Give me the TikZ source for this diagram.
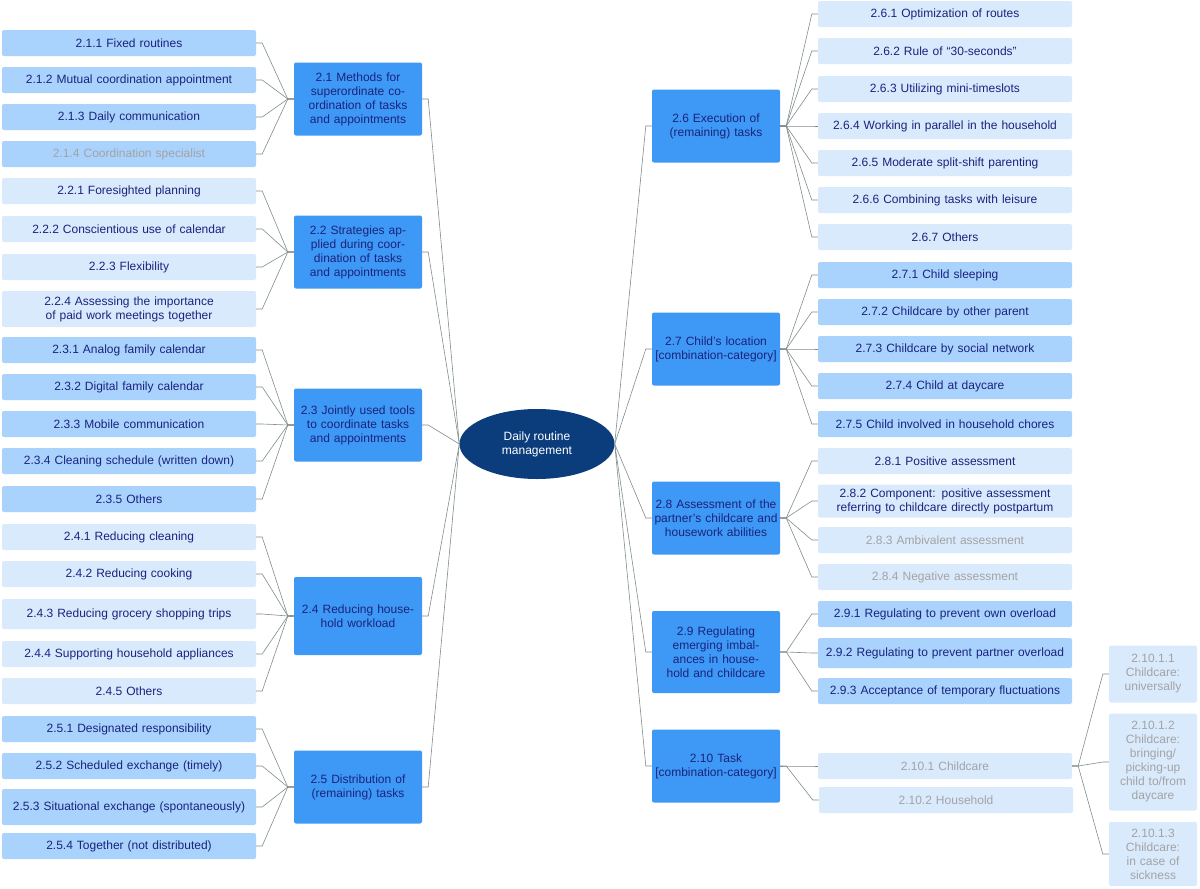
\documentclass[tikz,border=0pt]{standalone}
\usepackage{fontspec}
\setmainfont{Liberation Sans}
\usetikzlibrary{shapes.geometric}
\definecolor{midc}{HTML}{3D99F5}
\definecolor{darkleaf}{HTML}{A9D2FD}
\definecolor{lightleaf}{HTML}{D9EAFD}
\definecolor{txt}{HTML}{1A237E}
\definecolor{greyt}{HTML}{A3A3A3}
\definecolor{linec}{HTML}{7F8C8D}
\definecolor{ctr}{HTML}{0B3D7C}
\tikzset{
 box/.style={rounded corners=2pt, align=center, inner sep=2pt, font=\fontsize{12}{14}\selectfont, text=txt},
 mid/.style={box, fill=midc, text width=124, minimum height=73},
 dleaf/.style={box, fill=darkleaf, text width=250, minimum height=26},
 lleaf/.style={box, fill=lightleaf, text width=250, minimum height=26},
 sub/.style={box, fill=lightleaf, text width=84, text=greyt},
 gr/.style={text=greyt},
 conn/.style={draw=linec, line width=0.6pt},
}
\newcommand{\lconn}[2]{\draw[conn] (#1.west) -- ++(-6,0) -- ([xshift=6pt]#2.east) -- (#2.east);}
\newcommand{\rconn}[2]{\draw[conn] (#1.east) -- ++(6,0) -- ([xshift=-6pt]#2.west) -- (#2.west);}
\begin{document}
\begin{tikzpicture}[x=1pt,y=-1pt]
\useasboundingbox (0,0) rectangle (1200,889);
\node[ellipse, fill=ctr, text=white, minimum width=155, minimum height=70, align=center, font=\fontsize{12}{14}\selectfont] (c) at (537,444) {Daily routine\\management};
% left mids
\node[mid] (m1) at (358,99) {2.1 Methods for superordinate coordination of tasks and appointments};
\node[mid] (m2) at (358,252) {2.2 Strategies applied during coordination of tasks and appointments};
\node[mid] (m3) at (358,425) {2.3 Jointly used tools to coordinate tasks and appointments};
\node[mid, minimum height=78] (m4) at (358,616) {2.4 Reducing household workload};
\node[mid] (m5) at (358,787) {2.5 Distribution of (remaining) tasks};
% right mids
\node[mid] (m6) at (716,126) {2.6 Execution of (remaining) tasks};
\node[mid] (m7) at (716,349) {2.7 Child's location [combination-category]};
\node[mid] (m8) at (716,518) {2.8 Assessment of the partner's childcare and housework abilities};
\node[mid, minimum height=82] (m9) at (716,652) {2.9 Regulating emerging imbalances in household and childcare};
\node[mid] (m10) at (716,766) {2.10 Task [combination-category]};
% left leaves
\node[dleaf] (a1) at (129,43) {2.1.1 Fixed routines};
\node[dleaf] (a2) at (129,80) {2.1.2 Mutual coordination appointment};
\node[dleaf] (a3) at (129,117) {2.1.3 Daily communication};
\node[dleaf,gr] (a4) at (129,154) {2.1.4 Coordination specialist};
\node[lleaf] (b1) at (129,191) {2.2.1 Foresighted planning};
\node[lleaf] (b2) at (129,229) {2.2.2 Conscientious use of calendar};
\node[lleaf] (b3) at (129,267) {2.2.3 Flexibility};
\node[lleaf, minimum height=36] (b4) at (129,309) {2.2.4 Assessing the importance of paid work meetings together};
\node[dleaf] (d1) at (129,350) {2.3.1 Analog family calendar};
\node[dleaf] (d2) at (129,387) {2.3.2 Digital family calendar};
\node[dleaf] (d3) at (129,424) {2.3.3 Mobile communication};
\node[dleaf] (d4) at (129,461) {2.3.4 Cleaning schedule (written down)};
\node[dleaf] (d5) at (129,499) {2.3.5 Others};
\node[lleaf] (e1) at (129,537) {2.4.1 Reducing cleaning};
\node[lleaf] (e2) at (129,574) {2.4.2 Reducing cooking};
\node[lleaf, minimum height=30] (e3) at (129,614) {2.4.3 Reducing grocery shopping trips};
\node[lleaf] (e4) at (129,654) {2.4.4 Supporting household appliances};
\node[lleaf] (e5) at (129,691) {2.4.5 Others};
\node[dleaf] (f1) at (129,729) {2.5.1 Designated responsibility};
\node[dleaf] (f2) at (129,766) {2.5.2 Scheduled exchange (timely)};
\node[dleaf, minimum height=36] (f3) at (129,807) {2.5.3 Situational exchange (spontaneously)};
\node[dleaf] (f4) at (129,846) {2.5.4 Together (not distributed)};
% right leaves
\node[lleaf] (g1) at (945,14) {2.6.1 Optimization of routes};
\node[lleaf] (g2) at (945,51) {2.6.2 Rule of “30-seconds”};
\node[lleaf] (g3) at (945,89) {2.6.3 Utilizing mini-timeslots};
\node[lleaf] (g4) at (945,126) {2.6.4 Working in parallel in the household};
\node[lleaf] (g5) at (945,163) {2.6.5 Moderate split-shift parenting};
\node[lleaf] (g6) at (945,200) {2.6.6 Combining tasks with leisure};
\node[lleaf] (g7) at (945,237) {2.6.7 Others};
\node[dleaf] (h1) at (945,275) {2.7.1 Child sleeping};
\node[dleaf] (h2) at (945,312) {2.7.2 Childcare by other parent};
\node[dleaf] (h3) at (945,349) {2.7.3 Childcare by social network};
\node[dleaf] (h4) at (945,386) {2.7.4 Child at daycare};
\node[dleaf] (h5) at (945,424) {2.7.5 Child involved in household chores};
\node[lleaf] (i1) at (945,461) {2.8.1 Positive assessment};
\node[lleaf, minimum height=33] (i2) at (945,501) {2.8.2 Component: positive assessment referring to childcare directly postpartum};
\node[lleaf,gr] (i3) at (945,540) {2.8.3 Ambivalent assessment};
\node[lleaf,gr] (i4) at (945,577) {2.8.4 Negative assessment};
\node[dleaf] (j1) at (945,614) {2.9.1 Regulating to prevent own overload};
\node[dleaf, minimum height=30] (j2) at (945,653) {2.9.2 Regulating to prevent partner overload};
\node[dleaf] (j3) at (945,691) {2.9.3 Acceptance of temporary fluctuations};
\node[lleaf,gr] (k1) at (945,766) {2.10.1 Childcare};
\node[lleaf,gr] (k2) at (946,800) {2.10.2 Household};
\node[sub, minimum height=57] (l1) at (1153,674) {2.10.1.1 Childcare: universally};
\node[sub, minimum height=97] (l2) at (1153,762) {2.10.1.2 Childcare: bringing/ picking-up child to/from daycare};
\node[sub, minimum height=64] (l3) at (1153,854) {2.10.1.3 Childcare: in case of sickness};
% connectors
\foreach \m in {m1,m2,m3,m4,m5}{\draw[conn] (\m.east) -- ++(6,0) -- (c.west);}
\foreach \m in {m6,m7,m8,m9,m10}{\draw[conn] (c.east) -- ([xshift=-6pt]\m.west) -- (\m.west);}
\foreach \l in {a1,a2,a3,a4}{\lconn{m1}{\l}}
\foreach \l in {b1,b2,b3,b4}{\lconn{m2}{\l}}
\foreach \l in {d1,d2,d3,d4,d5}{\lconn{m3}{\l}}
\foreach \l in {e1,e2,e3,e4,e5}{\lconn{m4}{\l}}
\foreach \l in {f1,f2,f3,f4}{\lconn{m5}{\l}}
\foreach \l in {g1,g2,g3,g4,g5,g6,g7}{\rconn{m6}{\l}}
\foreach \l in {h1,h2,h3,h4,h5}{\rconn{m7}{\l}}
\foreach \l in {i1,i2,i3,i4}{\rconn{m8}{\l}}
\foreach \l in {j1,j2,j3}{\rconn{m9}{\l}}
\foreach \l in {k1,k2}{\rconn{m10}{\l}}
\foreach \l in {l1,l2,l3}{\rconn{k1}{\l}}
\end{tikzpicture}
\end{document}
